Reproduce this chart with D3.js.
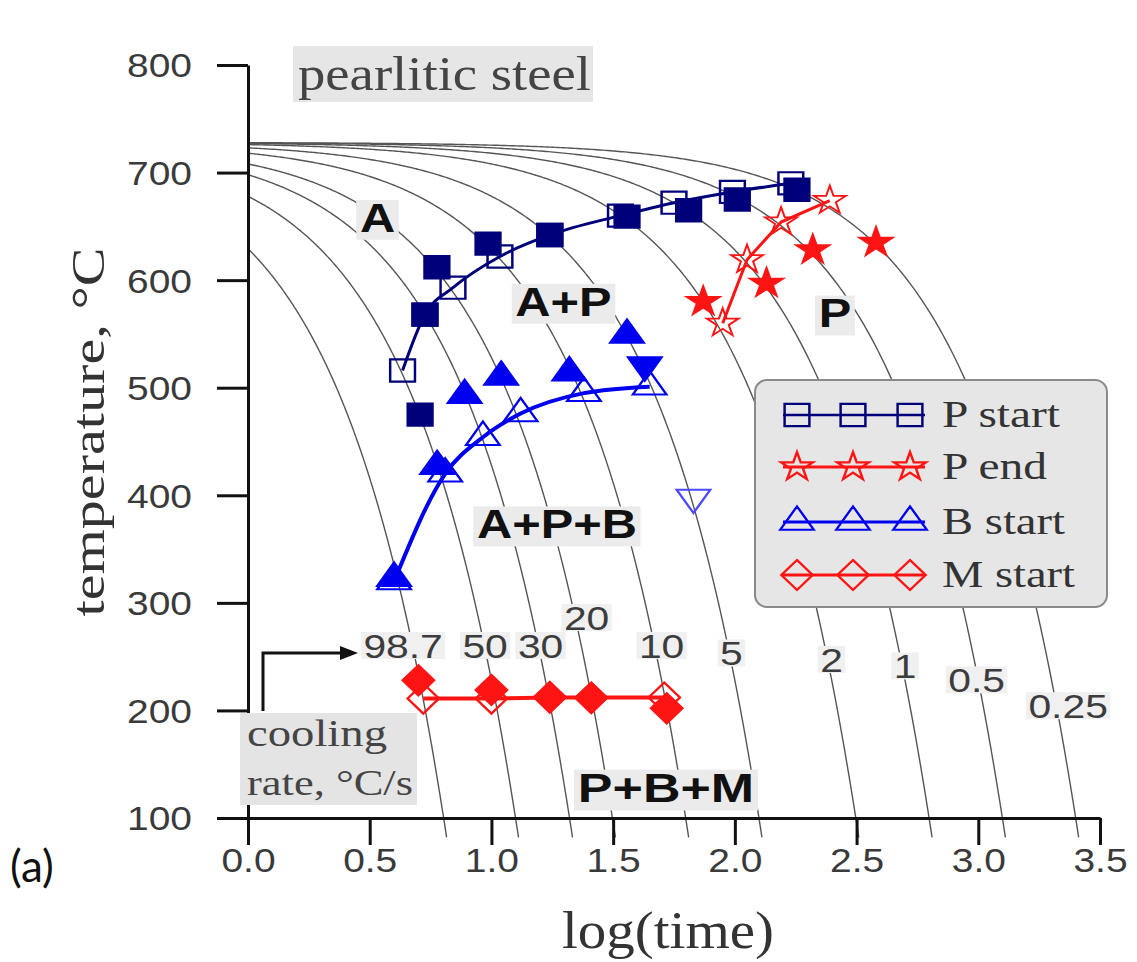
<!DOCTYPE html>
<html><head><meta charset="utf-8">
<script src="https://cdn.jsdelivr.net/npm/d3@7"></script>
<style>body{margin:0;background:#fff}svg{display:block}</style>
</head><body>
<svg id="c" width="1137" height="962"></svg>
<script>
// ---------- data ----------
const xTicks = [0, 0.5, 1, 1.5, 2, 2.5, 3, 3.5];
const yTicks = [100, 200, 300, 400, 500, 600, 700, 800];
const coolingRates = [98.7, 50, 30, 20, 10, 5, 2, 1, 0.5, 0.25];
const coolingLabels = ["98.7", "50", "30", "20", "10", "5", "2", "1", "0.5", "0.25"];
const austenitizeT = 728;
// [log(time), temperature]
const pStartOpen   = [[0.635,516],[0.727,568],[0.842,593],[1.035,622],[1.24,642],[1.53,660],[1.75,672],[1.99,682],[2.23,690]];
const pStartFilled = [[0.707,475],[0.727,568],[0.776,612],[0.986,634],[1.24,642],[1.557,659],[1.81,665],[2.01,675],[2.255,684]];
const pEndOpen     = [[1.95,560],[2.05,619],[2.19,654],[2.39,674]];
const pEndFilled   = [[1.87,580],[2.13,597],[2.32,628],[2.58,635]];
const bStartOpen   = [[0.6,320],[0.81,420],[0.965,454],[1.12,476],[1.38,495],[1.65,501]];
const bStartFilled = [[0.6,323],[0.777,427],[0.89,493],[1.04,510],[1.32,514],[1.557,549]];
const bStartDownFilled = [[1.63,521]];
const bStartDownOpen   = [[1.83,398]];
const mStartOpen   = [[0.72,211],[1.0,211],[1.24,212],[1.41,212],[1.71,212]];
const mStartFilled = [[0.70,228],[1.0,219],[1.24,212.5],[1.41,211.5],[1.72,202]];
const regionLabels = [["A",0.532,645],["A+P",1.296,567],["P",2.411,556],["A+P+B",1.269,360],["P+B+M",1.717,115]];
const rateLabelPos = [[0.637,249],[0.974,249],[1.202,249],[1.391,275],[1.699,249],[1.986,242],[2.397,236],[2.699,230],[2.993,217],[3.369,193]];
const legendNames = ["P start", "P end", "B start", "M start"];

// ---------- setup ----------
const svg = d3.select('#c');
const x = d3.scaleLinear().domain([0, 3.5]).range([248, 1100]);
const y = d3.scaleLinear().domain([100, 800]).range([818, 65]);
const SERIF = "'Liberation Serif','Times New Roman',serif";
const SANS = "'Liberation Sans',Arial,sans-serif";
const NAVY = '#00007a', RED = '#ff1414', BLUE = '#0000f0';

function txt(parent, s, px, py, o) {
  const g = parent.append('g').attr('transform', `translate(${px},${py})` + (o.rot ? ` rotate(${o.rot})` : '') + ` scale(${o.sx || 1},1)`);
  const r = g.append('rect');
  const t = g.append('text').text(s)
    .attr('font-family', o.family || SANS).attr('font-size', o.size)
    .attr('font-weight', o.weight || 'normal').attr('fill', o.fill || '#333')
    .attr('text-anchor', o.anchor || 'start');
  if (o.len) t.attr('textLength', o.len).attr('lengthAdjust', 'spacingAndGlyphs');
  if (o.bg) {
    const b = t.node().getBBox();
    const p = o.pad || 3;
    r.attr('x', b.x - p).attr('y', b.y + (o.padTop || 0)).attr('width', b.width + 2 * p).attr('height', b.height - (o.padTop || 0) + (o.padBot || 0)).attr('fill', o.bg).attr('rx', o.rx || 0);
  } else r.remove();
  return t;
}

// ---------- cooling curves ----------
const gCurves = svg.append('g');
coolingRates.forEach(r => {
  const xEnd = Math.log10((austenitizeT - 82) / r);
  const pts = d3.range(0, 301).map(i => {
    const lx = xEnd * i / 300;
    return [lx, austenitizeT - r * Math.pow(10, lx)];
  });
  gCurves.append('path').datum(pts)
    .attr('d', d3.line().x(d => x(d[0])).y(d => y(d[1])).curve(d3.curveLinear))
    .attr('fill', 'none').attr('stroke', '#555').attr('stroke-width', 1.4);
});

// ---------- labels on plot ----------
const gLab = svg.append('g');
coolingLabels.forEach((s, i) => {
  txt(gLab, s, x(rateLabelPos[i][0]), y(rateLabelPos[i][1]), {size: 34, sx: 1.2, anchor: 'middle', fill: '#3c3c3c', bg: '#f0f0f0', pad: 2, padTop: 5, padBot: -6});
});
regionLabels.forEach(d => {
  const sx = d[0] === 'P+B+M' ? 1.3 : 1.22;
  txt(gLab, d[0], x(d[1]), y(d[2]), {size: 40, sx: sx, anchor: 'middle', weight: 'bold', fill: '#111', bg: '#ebebeb', pad: 3, padTop: 4, padBot: 0});
});

// ---------- axes ----------
const gy = svg.append('g').attr('transform', `translate(${x(0)},0)`)
  .call(d3.axisLeft(y).tickValues(yTicks).tickSize(31).tickSizeOuter(0));
gy.select('.domain').attr('stroke', '#111').attr('stroke-width', 3);
gy.selectAll('.tick line').attr('stroke', '#111').attr('stroke-width', 3);
gy.selectAll('.tick text').attr('x', 0).attr('dy', '0.36em')
  .attr('transform', 'translate(-56,0) scale(1.18,1)')
  .attr('font-family', SANS).attr('font-size', 33).attr('fill', '#3a3a3a').attr('text-anchor', 'end');

const gx = svg.append('g').attr('transform', `translate(0,${y(100)})`)
  .call(d3.axisBottom(x).tickValues(xTicks).tickSize(27).tickSizeOuter(0).tickFormat(d3.format('.1f')));
gx.select('.domain').attr('stroke', '#111').attr('stroke-width', 3);
gx.selectAll('.tick line').attr('stroke', '#111').attr('stroke-width', 3);
gx.selectAll('.tick text').attr('y', 0).attr('dy', 0)
  .attr('transform', 'translate(0,54) scale(1.18,1)')
  .attr('font-family', SANS).attr('font-size', 33).attr('fill', '#3a3a3a');

// axis titles
txt(svg, 'log(time)', 668, 948, {size: 52, family: SERIF, anchor: 'middle', fill: '#333', len: 212});
txt(svg, 'temperature, °C', 104, 432, {size: 46, family: SERIF, anchor: 'middle', fill: '#333', rot: -90, len: 369});
txt(svg, '(a)', 10, 882, {size: 44, family: "Lato,'Open Sans',sans-serif", fill: '#111'});

// title box
svg.append('rect').attr('x', 293).attr('y', 46).attr('width', 300).attr('height', 56).attr('fill', '#e6e6e6');
txt(svg, 'pearlitic steel', 298, 90, {size: 48, family: SERIF, fill: '#444', len: 293});

// cooling rate box + arrow
svg.append('rect').attr('x', 240).attr('y', 713).attr('width', 177).attr('height', 92).attr('fill', '#e4e4e4');
txt(svg, 'cooling', 247, 746, {size: 38, family: SERIF, fill: '#444', len: 140});
txt(svg, 'rate, °C/s', 247, 795, {size: 36, family: SERIF, fill: '#444', len: 166});
svg.append('path').attr('d', 'M263,711V653H343').attr('fill', 'none').attr('stroke', '#111').attr('stroke-width', 3);
svg.append('path').attr('d', 'M340,646L358,653L340,660Z').attr('fill', '#111');

// ---------- series ----------
const sym = (type, size) => d3.symbol().type(type).size(size)();
const shapes = {
  square: () => sym(d3.symbolSquare, 490),
  star: () => sym(d3.symbolStar, 250),
  tri: () => sym(d3.symbolTriangle, 390),
  diamond: () => 'M0,-15L14,0L0,15L-14,0Z'
};
function markers(data, shape, opts) {
  svg.append('g').selectAll('path').data(data).join('path')
    .attr('transform', d => `translate(${x(d[0])},${y(d[1])}) scale(1.12,${opts.flip ? -0.9 : (shape === 'tri' ? 0.9 : 1)})`)
    .attr('d', shapes[shape]())
    .attr('fill', opts.fill).attr('stroke', opts.stroke).attr('stroke-width', opts.sw || 2.2);
}
function seriesLine(data, color, w, curve) {
  svg.append('path').datum(data)
    .attr('d', d3.line().x(d => x(d[0])).y(d => y(d[1])).curve(curve))
    .attr('fill', 'none').attr('stroke', color).attr('stroke-width', w);
}

// M start
seriesLine(mStartOpen, RED, 4, d3.curveLinear);
markers(mStartOpen, 'diamond', {fill: 'none', stroke: RED});
markers(mStartFilled, 'diamond', {fill: RED, stroke: RED});
// B start
seriesLine(bStartOpen, BLUE, 4, d3.curveMonotoneX);
markers(bStartOpen, 'tri', {fill: 'none', stroke: BLUE});
markers(bStartFilled, 'tri', {fill: BLUE, stroke: BLUE});
markers(bStartDownFilled, 'tri', {fill: BLUE, stroke: BLUE, flip: true});
markers(bStartDownOpen, 'tri', {fill: 'none', stroke: '#4a4aff', flip: true});
// P start
seriesLine(pStartOpen, NAVY, 3, d3.curveMonotoneX);
markers(pStartOpen, 'square', {fill: 'none', stroke: NAVY});
markers(pStartFilled, 'square', {fill: NAVY, stroke: NAVY});
// P end
seriesLine(pEndOpen, RED, 3, d3.curveLinear);
markers(pEndOpen, 'star', {fill: 'none', stroke: RED, sw: 1.8});
markers(pEndFilled, 'star', {fill: RED, stroke: RED});

// ---------- legend ----------
const lg = svg.append('g');
lg.append('rect').attr('x', 755).attr('y', 380).attr('width', 352).attr('height', 227).attr('rx', 12)
  .attr('fill', '#e6e6e6').attr('stroke', '#8a8a8a').attr('stroke-width', 2);
const legShapes = ['square', 'star', 'tri', 'diamond'];
const legColors = [NAVY, RED, BLUE, RED];
const legRowY = [415, 467, 522, 575];
const legMarkX = [797, 853, 910];
legendNames.forEach((n, i) => {
  lg.append('line').attr('x1', 783).attr('x2', 925).attr('y1', legRowY[i]).attr('y2', legRowY[i])
    .attr('stroke', legColors[i]).attr('stroke-width', i === 0 ? 2.5 : 3);
  legMarkX.forEach(mx => {
    lg.append('path').attr('d', shapes[legShapes[i]]())
      .attr('transform', `translate(${mx},${legRowY[i]}) scale(1.12,${legShapes[i] === 'tri' ? 0.9 : 1})`)
      .attr('fill', 'none').attr('stroke', legColors[i]).attr('stroke-width', 2.2);
  });
});
const legLens = [118, 105, 123, 133];
legendNames.forEach((n, i) => {
  txt(lg, n, 942, legRowY[i] + 12, {size: 38, family: SERIF, fill: '#333', len: legLens[i]});
});
</script>
</body></html>
